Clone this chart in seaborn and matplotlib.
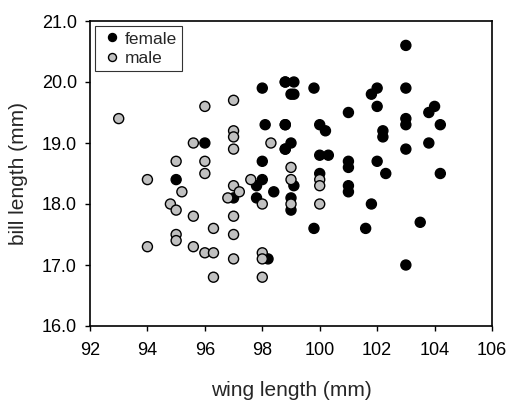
import matplotlib
matplotlib.use("Agg")
import matplotlib.pyplot as plt
import seaborn as sns
import pandas as pd
from matplotlib.ticker import FormatStrFormatter

female_wing = [98.0, 98.8, 98.1, 98.8, 98.8, 96.0, 98.0, 95.0, 98.0, 97.8, 98.4, 97.0, 97.8, 98.2,
               103.0, 98.8, 99.1, 99.0, 99.1, 99.8, 102.0, 101.8, 103.0, 102.0, 104.0, 103.8, 101.0,
               98.8, 100.0, 100.2, 103.0, 103.0, 104.2, 102.2, 102.2, 99.0, 98.8, 103.8, 103.0,
               100.0, 100.3, 102.0, 101.0, 101.0, 100.0, 102.3, 104.2, 99.1, 101.0, 101.0,
               99.0, 99.0, 101.8, 99.8, 101.6, 103.5, 103.0]
female_bill = [19.9, 20.0, 19.3, 19.3, 18.9, 19.0, 18.7, 18.4, 18.4, 18.3, 18.2, 18.1, 18.1, 17.1,
               20.6, 20.0, 20.0, 19.8, 19.8, 19.9, 19.9, 19.8, 19.9, 19.6, 19.6, 19.5, 19.5,
               19.3, 19.3, 19.2, 19.4, 19.3, 19.3, 19.2, 19.1, 19.0, 18.9, 19.0, 18.9,
               18.8, 18.8, 18.7, 18.7, 18.6, 18.5, 18.5, 18.5, 18.3, 18.3, 18.2,
               18.1, 17.9, 18.0, 17.6, 17.6, 17.7, 17.0]

male_wing = [93.0, 96.0, 97.0, 97.0, 97.0, 97.0, 95.6, 98.3, 95.0, 96.0, 96.0, 94.0, 97.6,
             97.0, 97.2, 95.2, 96.8, 98.0, 94.8, 95.0, 95.6, 97.0, 96.3, 95.0, 95.0, 97.0,
             94.0, 95.6, 96.0, 96.3, 98.0, 97.0, 98.0, 96.3, 98.0,
             99.0, 99.0, 100.0, 100.0, 99.0, 100.0]
male_bill = [19.4, 19.6, 19.7, 19.2, 19.1, 18.9, 19.0, 19.0, 18.7, 18.7, 18.5, 18.4, 18.4,
             18.3, 18.2, 18.2, 18.1, 18.0, 18.0, 17.9, 17.8, 17.8, 17.6, 17.5, 17.4, 17.5,
             17.3, 17.3, 17.2, 17.2, 17.2, 17.1, 17.1, 16.8, 16.8,
             18.6, 18.4, 18.4, 18.3, 18.0, 18.0]

sexes = ["female", "male"]
colors = {"female": "#000000", "male": "#c0c0c0"}

df = pd.DataFrame({
    "wing": female_wing + male_wing,
    "bill": female_bill + male_bill,
    "sex": ["female"] * len(female_wing) + ["male"] * len(male_wing),
})

sns.set_style("ticks")
plt.rcParams["font.family"] = ["Liberation Sans", "DejaVu Sans"]

fig = plt.figure(figsize=(5.07, 4.01), dpi=100)
ax = fig.add_axes([90 / 507, 1 - 326 / 401, 402 / 507, 305 / 401])

sns.scatterplot(data=df, x="wing", y="bill", hue="sex", hue_order=sexes, palette=colors,
                s=52, edgecolor="black", linewidth=1.0, ax=ax, legend=True, zorder=3)

ax.set_xlim(92, 106)
ax.set_ylim(16.0, 21.0)
ax.set_xticks(range(92, 107, 2))
ax.set_yticks([16, 17, 18, 19, 20, 21])
ax.yaxis.set_major_formatter(FormatStrFormatter("%.1f"))
ax.tick_params(axis="both", labelsize=13, direction="out", length=3.5, width=1, colors="black")
ax.tick_params(axis="x", pad=8)
ax.tick_params(axis="y", pad=6)
ax.set_xlabel("wing length (mm)", fontsize=15, labelpad=16)
ax.set_ylabel("bill length (mm)", fontsize=15, labelpad=10)
for sp in ax.spines.values():
    sp.set_visible(True)
    sp.set_color("black")
    sp.set_linewidth(1.2)

leg = ax.legend(loc="upper left", fontsize=12.5, frameon=True, fancybox=False,
                edgecolor="black", borderpad=0.3, handletextpad=0.1, labelspacing=0.25,
                borderaxespad=0.3, handlelength=1.3, markerscale=0.8)
leg.get_frame().set_linewidth(0.8)

fig.savefig("out.png", dpi=100)
